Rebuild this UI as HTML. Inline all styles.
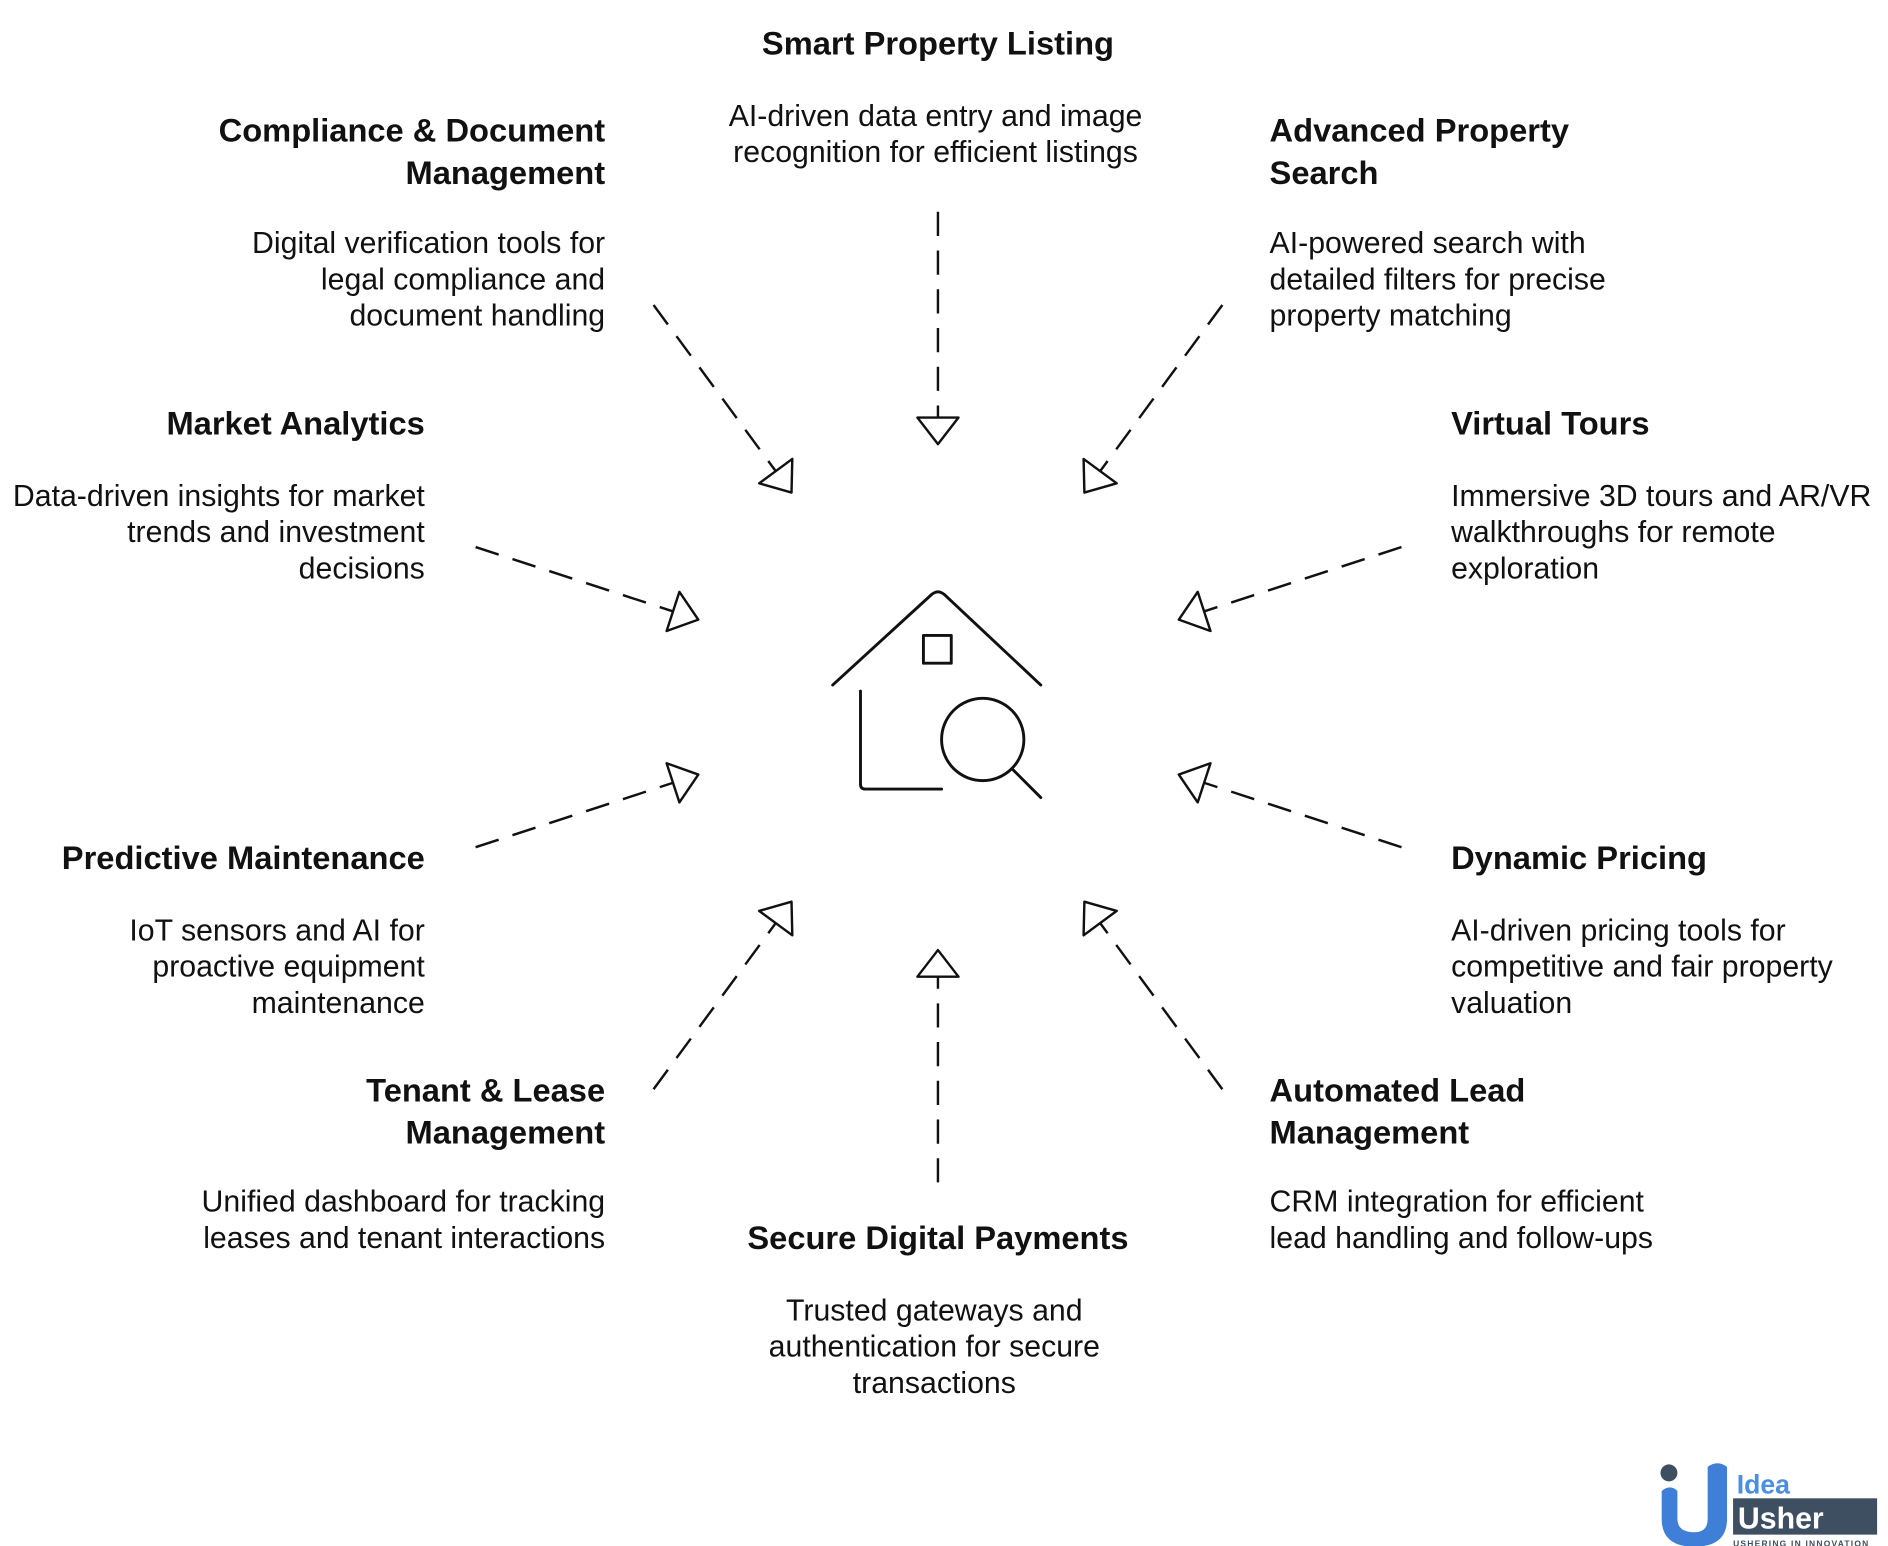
<!DOCTYPE html>
<html><head><meta charset="utf-8"><style>
html,body{margin:0;padding:0;background:#fff;}
svg{display:block;}
text{font-family:"Liberation Sans",sans-serif;fill:#111;}
.t{font-weight:bold;font-size:27px;}
.b{font-size:25px;}
</style></head><body>
<svg width="1888" height="1546" viewBox="0 0 1560 1277.4" preserveAspectRatio="none" xmlns="http://www.w3.org/2000/svg">
<defs>
<marker id="a" viewBox="-2 -19 28 38" refX="22" refY="0" markerWidth="28" markerHeight="38" markerUnits="userSpaceOnUse" orient="auto">
<path d="M0,-17 L22,0 L0,17 Z" fill="#fff" stroke="#111" stroke-width="2" stroke-linejoin="round"/>
</marker>
</defs>
<g stroke="#111" stroke-width="2" fill="none" stroke-dasharray="20 12" marker-end="url(#a)">
<line x1="775" y1="175" x2="775" y2="367"/>
<line x1="540" y1="252" x2="654" y2="407"/>
<line x1="1010" y1="252" x2="896" y2="407"/>
<line x1="393" y1="452" x2="577" y2="512"/>
<line x1="1158" y1="452" x2="974" y2="512"/>
<line x1="393" y1="700" x2="577" y2="640"/>
<line x1="1158" y1="700" x2="974" y2="640"/>
<line x1="540" y1="900" x2="654" y2="745"/>
<line x1="1010" y1="900" x2="896" y2="745"/>
<line x1="775" y1="977" x2="775" y2="785"/>
</g>
<g stroke="#111" stroke-width="2.4" fill="none" stroke-linecap="round" stroke-linejoin="round">
<path d="M688,566 L770,491 Q775,487 780,491 L860,566"/>
<rect x="763" y="525" width="23" height="23"/>
<path d="M711,571 L711,648 Q711,652 715,652 L778,652"/>
<circle cx="812" cy="611" r="34"/>
<line x1="837" y1="636" x2="860" y2="659"/>
</g>
<text class="t" x="775" y="45" text-anchor="middle">Smart Property Listing</text>
<text class="b" x="773" y="104" text-anchor="middle">AI-driven data entry and image</text>
<text class="b" x="773" y="134" text-anchor="middle">recognition for efficient listings</text>

<g text-anchor="end">
<text class="t" x="500" y="117">Compliance &amp; Document</text>
<text class="t" x="500" y="152">Management</text>
<text class="b" x="500" y="209">Digital verification tools for</text>
<text class="b" x="500" y="239">legal compliance and</text>
<text class="b" x="500" y="269">document handling</text>
<text class="t" x="351" y="359">Market Analytics</text>
<text class="b" x="351" y="418">Data-driven insights for market</text>
<text class="b" x="351" y="448">trends and investment</text>
<text class="b" x="351" y="478">decisions</text>
<text class="t" x="351" y="718">Predictive Maintenance</text>
<text class="b" x="351" y="777">IoT sensors and AI for</text>
<text class="b" x="351" y="807">proactive equipment</text>
<text class="b" x="351" y="837">maintenance</text>
<text class="t" x="500" y="910">Tenant &amp; Lease</text>
<text class="t" x="500" y="945">Management</text>
<text class="b" x="500" y="1001">Unified dashboard for tracking</text>
<text class="b" x="500" y="1031">leases and tenant interactions</text>
</g>
<g>
<text class="t" x="1049" y="117">Advanced Property</text>
<text class="t" x="1049" y="152">Search</text>
<text class="b" x="1049" y="209">AI-powered search with</text>
<text class="b" x="1049" y="239">detailed filters for precise</text>
<text class="b" x="1049" y="269">property matching</text>
<text class="t" x="1199" y="359">Virtual Tours</text>
<text class="b" x="1199" y="418">Immersive 3D tours and AR/VR</text>
<text class="b" x="1199" y="448">walkthroughs for remote</text>
<text class="b" x="1199" y="478">exploration</text>
<text class="t" x="1199" y="718">Dynamic Pricing</text>
<text class="b" x="1199" y="777">AI-driven pricing tools for</text>
<text class="b" x="1199" y="807">competitive and fair property</text>
<text class="b" x="1199" y="837">valuation</text>
<text class="t" x="1049" y="910">Automated Lead</text>
<text class="t" x="1049" y="945">Management</text>
<text class="b" x="1049" y="1001">CRM integration for efficient</text>
<text class="b" x="1049" y="1031">lead handling and follow-ups</text>
</g>
<text class="t" x="775" y="1032" text-anchor="middle">Secure Digital Payments</text>
<text class="b" x="772" y="1091" text-anchor="middle">Trusted gateways and</text>
<text class="b" x="772" y="1121" text-anchor="middle">authentication for secure</text>
<text class="b" x="772" y="1151" text-anchor="middle">transactions</text>

<g>
<circle cx="1379" cy="1217" r="7" fill="#3d4f61"/>
<path d="M1373,1232 L1373,1255 Q1373,1278 1400,1278 Q1427,1278 1427,1255 L1427,1212 Q1419,1206 1411,1212 L1411,1255 Q1411,1266 1400,1266 Q1386,1266 1386,1255 L1386,1232 Q1380,1226 1373,1232 Z" fill="#3f7fd8"/>
<rect x="1432" y="1238" width="119" height="30" fill="#3d4f61"/>
<text x="1435" y="1234" font-size="22" font-weight="bold" style="fill:#4a90e2">Idea</text>
<text x="1436" y="1263" font-size="25" font-weight="bold" style="fill:#fff">Usher</text>
<text x="1432" y="1278" font-size="7" font-weight="bold" style="fill:#3d4f61" letter-spacing="1">USHERING IN INNOVATION</text>
</g>
</svg>
</body></html>
